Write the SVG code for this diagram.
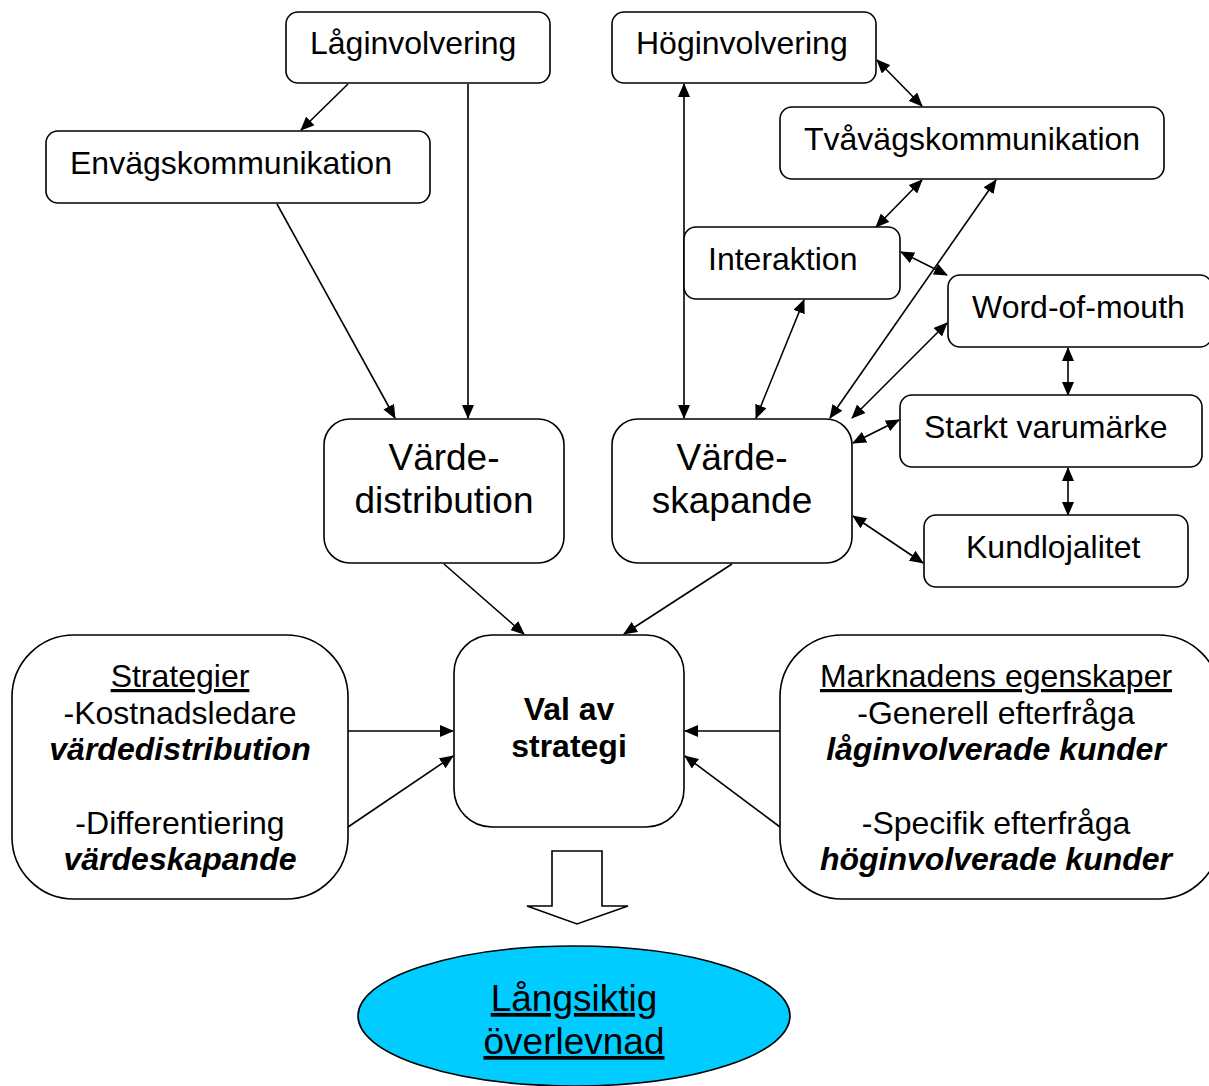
<svg xmlns="http://www.w3.org/2000/svg" width="1209" height="1086" viewBox="0 0 1209 1086">
<style>
.box{fill:#fff;stroke:#000;stroke-width:1.6}
.t{font-family:"Liberation Sans",Arial,sans-serif;font-size:32px;fill:#000}
.big{font-family:"Liberation Sans",Arial,sans-serif;font-size:37px;fill:#000;text-anchor:middle}
.c{text-anchor:middle}
.b{font-weight:bold}
.bi{font-weight:bold;font-style:italic}
.u{text-decoration:underline}
.ln{stroke:#000;stroke-width:1.6;fill:none}
</style>
<defs>
<marker id="ah" markerUnits="userSpaceOnUse" markerWidth="14" markerHeight="12" refX="13" refY="6" orient="auto-start-reverse" viewBox="0 0 14 12">
<path d="M0,0 L14,6 L0,12 z" fill="#000"/>
</marker>
</defs>
<rect width="1209" height="1086" fill="#fff"/>
<g id="connectors">
<line class="ln" x1="348" y1="84" x2="301" y2="130" marker-end="url(#ah)"/>
<line class="ln" x1="468" y1="84" x2="468" y2="418" marker-end="url(#ah)"/>
<line class="ln" x1="277" y1="204" x2="395" y2="418" marker-end="url(#ah)"/>
<line class="ln" x1="684" y1="84" x2="684" y2="418" marker-start="url(#ah)" marker-end="url(#ah)"/>
<line class="ln" x1="877" y1="60" x2="922" y2="106" marker-start="url(#ah)" marker-end="url(#ah)"/>
<line class="ln" x1="922" y1="180" x2="876" y2="227" marker-start="url(#ah)" marker-end="url(#ah)"/>
<line class="ln" x1="996" y1="180" x2="830" y2="418" marker-start="url(#ah)" marker-end="url(#ah)"/>
<line class="ln" x1="901" y1="252" x2="947" y2="275" marker-start="url(#ah)" marker-end="url(#ah)"/>
<line class="ln" x1="804" y1="300" x2="756" y2="418" marker-start="url(#ah)" marker-end="url(#ah)"/>
<line class="ln" x1="947" y1="323" x2="852" y2="418" marker-start="url(#ah)" marker-end="url(#ah)"/>
<line class="ln" x1="1068" y1="348" x2="1068" y2="395" marker-start="url(#ah)" marker-end="url(#ah)"/>
<line class="ln" x1="899" y1="420" x2="853" y2="443" marker-start="url(#ah)" marker-end="url(#ah)"/>
<line class="ln" x1="1068" y1="468" x2="1068" y2="515" marker-start="url(#ah)" marker-end="url(#ah)"/>
<line class="ln" x1="853" y1="516" x2="923" y2="563" marker-start="url(#ah)" marker-end="url(#ah)"/>
<line class="ln" x1="444" y1="564" x2="524" y2="634" marker-end="url(#ah)"/>
<line class="ln" x1="732" y1="564" x2="624" y2="634" marker-end="url(#ah)"/>
<line class="ln" x1="348" y1="731" x2="453" y2="731" marker-end="url(#ah)"/>
<line class="ln" x1="348" y1="827" x2="453" y2="756" marker-end="url(#ah)"/>
<line class="ln" x1="780" y1="731" x2="685" y2="731" marker-end="url(#ah)"/>
<line class="ln" x1="780" y1="827" x2="685" y2="756" marker-end="url(#ah)"/>
</g>
<g id="laginvolvering">
<rect class="box" x="286" y="12" width="264" height="71" rx="12"/>
<text class="t" x="310" y="54">Låginvolvering</text>
</g>
<g id="hoginvolvering">
<rect class="box" x="612" y="12" width="264" height="71" rx="12"/>
<text class="t" x="636" y="54">Höginvolvering</text>
</g>
<g id="envagskommunikation">
<rect class="box" x="46" y="131" width="384" height="72" rx="12"/>
<text class="t" x="70" y="174">Envägskommunikation</text>
</g>
<g id="tvavagskommunikation">
<rect class="box" x="780" y="107" width="384" height="72" rx="12"/>
<text class="t" x="804" y="150">Tvåvägskommunikation</text>
</g>
<g id="interaktion">
<rect class="box" x="684" y="227" width="216" height="72" rx="12"/>
<text class="t" x="708" y="270">Interaktion</text>
</g>
<g id="wordofmouth">
<rect class="box" x="948" y="275" width="264" height="72" rx="12"/>
<text class="t" x="972" y="318">Word-of-mouth</text>
</g>
<g id="starktvarumarke">
<rect class="box" x="900" y="395" width="302" height="72" rx="12"/>
<text class="t" x="924" y="438">Starkt varumärke</text>
</g>
<g id="kundlojalitet">
<rect class="box" x="924" y="515" width="264" height="72" rx="12"/>
<text class="t" x="966" y="558">Kundlojalitet</text>
</g>
<g id="vardedistribution">
<rect class="box" x="324" y="419" width="240" height="144" rx="26"/>
<text class="big" x="444" y="470">Värde-</text>
<text class="big" x="444" y="513">distribution</text>
</g>
<g id="vardeskapande">
<rect class="box" x="612" y="419" width="240" height="144" rx="26"/>
<text class="big" x="732" y="470">Värde-</text>
<text class="big" x="732" y="513">skapande</text>
</g>
<g id="valavstrategi">
<rect class="box" x="454" y="635" width="230" height="192" rx="38"/>
<text class="t c b" x="569" y="720" font-size="30">Val av</text>
<text class="t c b" x="569" y="757" font-size="30">strategi</text>
</g>
<g id="strategier">
<rect class="box" x="12" y="635" width="336" height="264" rx="62"/>
<text class="t c u" x="180" y="687">Strategier</text>
<text class="t c" x="180" y="724">-Kostnadsledare</text>
<text class="t c bi" x="180" y="760">värdedistribution</text>
<text class="t c" x="180" y="834">-Differentiering</text>
<text class="t c bi" x="180" y="870">värdeskapande</text>
</g>
<g id="marknadens">
<rect class="box" x="780" y="635" width="440" height="264" rx="62"/>
<text class="t c u" x="996" y="687">Marknadens egenskaper</text>
<text class="t c" x="996" y="724">-Generell efterfråga</text>
<text class="t c bi" x="996" y="760">låginvolverade kunder</text>
<text class="t c" x="996" y="834">-Specifik efterfråga</text>
<text class="t c bi" x="996" y="870">höginvolverade kunder</text>
</g>
<g id="blockarrow">
<path class="box" d="M552,851 L602,851 L602,906 L628,906 L577,924 L527,906 L552,906 Z"/>
</g>
<g id="langsiktig">
<ellipse cx="574" cy="1016" rx="216" ry="70" fill="#00CCFF" stroke="#000" stroke-width="1.6"/>
<text class="big u" x="574" y="1011">Långsiktig</text>
<text class="big u" x="574" y="1054">överlevnad</text>
</g>
</svg>
